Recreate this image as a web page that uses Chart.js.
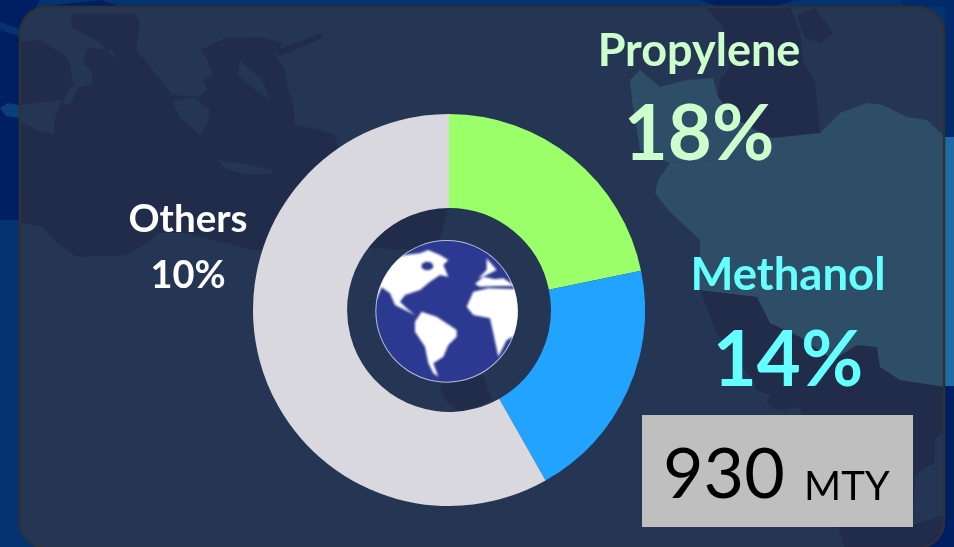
<!DOCTYPE html>
<html>
<head>
<meta charset="utf-8">
<title>Feedstock share</title>
<script src="https://cdn.jsdelivr.net/npm/chart.js@4"></script>
<style>
html, body { margin: 0; padding: 0; background: #04336f; overflow: hidden; }
#stage { position: relative; width: 954px; height: 547px; overflow: hidden; font-family: Lato, sans-serif; }
#stage svg { position: absolute; left: 0; top: 0; }
#chartBox { position: absolute; left: 253px; top: 114px; width: 392px; height: 392px; }
.lbl { position: absolute; transform: translateX(-50%); white-space: nowrap; font-weight: bold; line-height: 1; }
#totalBox { position: absolute; left: 642px; top: 415px; width: 271px; height: 112px; background: #bfbfbf; color: #000; }
#totalBox span { position: absolute; line-height: 1; white-space: nowrap; }
</style>
</head>
<body>
<div id="stage">
<svg width="954" height="547" viewBox="0 0 954 547">
	<defs>
		<clipPath id="panelClip"><rect x="20" y="7" width="924" height="541" rx="27"/></clipPath>
		<clipPath id="globeClip"><circle cx="320" cy="334" r="213"/></clipPath>
		<filter id="soft"><feGaussianBlur stdDeviation="3"/></filter>
	</defs>
	<!-- outside the panel -->
	<polygon points="0,0 40,0 22,30 0,22" fill="#001f63"/>
	<polygon points="0,30 19,36 19,220 0,220" fill="#001f63"/>
	<polygon points="0,108 8,103 19,105 19,118 6,116" fill="#0a3f7c"/>
	<polygon points="100,0 122,7 40,7" fill="#001f63"/>
	<polygon points="700,0 795,0 775,7 720,7" fill="#001f63"/>
	<polygon points="900,0 954,0 954,137 945,137 945,7 905,7" fill="#02296a"/>
	<polygon points="945,137 954,137 954,386 945,386" fill="#1d6aa5"/>
	<polygon points="945,386 954,386 954,547 900,547 945,520" fill="#001f63"/>

	<!-- panel and the map behind it -->
	<g clip-path="url(#panelClip)">
		<rect x="19" y="7" width="926" height="541" fill="#243654"/>
		<!-- sea on the left, runs behind the ring into its hole -->
		<polygon fill="#212b4a" points="19,42 70,30 72,14 135,14 140,22 136,50 147,63 163,83 172,95 200,97 207,88 203,80 213,75 205,55 200,50 225,38 260,37 283,43 275,55 285,70 287,85 293,105 295,125 320,130 335,135 340,160 448,170 448,208 440,240 410,250 375,248 253,250 187,233 157,233 148,243 125,255 77,257 57,243 43,227 20,222"/>
		<polygon fill="#212b4a" points="275,50 300,42 322,33 322,38 302,47 280,56"/>
		<polygon fill="#212b4a" points="440,385 483,375 492,400 460,413 445,400"/>
		<!-- italy, sicily, greece, crete -->
		<polygon fill="#243654" points="19,30 70,12 72,28 100,42 118,62 112,50 88,48 83,62 92,72 92,85 78,88 70,105 62,103 70,88 74,85 68,58 40,40 19,42"/>
		<polygon fill="#243654" points="19,105 62,100 55,118 54,135 40,132 19,120"/>
		<polygon fill="#243654" points="172,100 195,98 210,110 207,125 200,135 205,142 195,130 180,118"/>
		<polygon fill="#243654" points="218,160 250,165 272,170 272,174 245,175 225,168"/>
		<polygon fill="#243654" points="240,60 262,80 270,100 255,90 238,75"/>
		<!-- east side -->
		<polygon fill="#212b4a" points="700,0 793,0 790,7 800,33 803,60 815,83 820,133 773,138 733,117 718,97 720,80 730,67 723,27"/>
		<polygon fill="#212b4a" points="797,15 815,8 833,33 820,43 805,38"/>
		<polygon fill="#212b4a" points="700,290 757,297 770,323 800,337 833,360 857,345 877,347 880,367 900,380 945,387 945,430 935,440 935,462 915,475 913,525 945,515 945,548 845,548 800,407 777,410 767,403 770,395 757,390 753,380 717,333 713,323"/>
		<polygon fill="#2e4e68" points="630,80 640,70 660,87 687,80 713,78 718,97 733,117 767,137 773,138 717,160 670,163 640,150 632,100"/>
		<polygon fill="#2e4e68" points="658,180 663,173 670,163 717,160 773,138 820,133 840,113 867,103 883,105 907,117 927,120 945,137 945,387 900,380 880,367 877,347 857,345 833,360 800,337 770,323 757,297 700,290 700,240 668,210 655,193"/>
	</g>
	<rect x="20" y="7" width="924" height="541" rx="27" fill="none" stroke="#2e3136" stroke-width="2.5"/>
</svg>

<div id="chartBox"><canvas id="shareChart"></canvas></div>

<!-- globe in the middle of the ring, coordinates are at 3x -->
<svg width="954" height="547" viewBox="0 0 954 547">
	<g transform="translate(340,200) scale(0.3333)">
		<circle cx="320" cy="334" r="214" fill="#b9bcdc"/>
		<circle cx="320" cy="334" r="211" fill="#2c3990"/>
		<g clip-path="url(#globeClip)">
			<g fill="#ffffff" filter="url(#soft)">
				<polygon points="195,165 240,160 265,150 300,165 325,180 310,195 325,230 300,225 270,245 240,270 195,285 180,305 200,325 225,345 195,330 165,315 150,280 125,262 108,300 100,200"/>
				<polygon points="225,365 245,335 290,350 350,390 350,410 325,435 310,470 280,490 295,530 280,520 265,490 255,440 225,395"/>
				<polygon points="380,320 400,275 445,265 540,268 540,400 500,420 475,470 460,400 450,355 400,345"/>
				<polygon points="405,252 430,230 465,238 490,235 525,258 470,258 420,260"/>
				<polygon points="440,175 470,210 440,225 415,235 440,210"/>
			</g>
			<g fill="#2c3990" filter="url(#soft)">
				<ellipse cx="262" cy="198" rx="18" ry="13"/>
			</g>
		</g>
	</g>
</svg>

<div id="labels"></div>
<div id="totalBox"><span id="totalNum" style="left:21px;top:21px;font-size:70px;"></span><span id="totalUnit" style="left:162px;top:50px;font-size:40px;"></span></div>
</div>

<script>
const sliceNames = ['Propylene', 'Methanol', 'Others'];
const sliceValues = [21.8, 20, 58.2];
const sliceColors = ['#9bff69', '#21a3ff', '#d9d8de'];
const shownPercents = ['18%', '14%', '10%'];
const totalValue = '930';
const totalUnit = 'MTY';

const labelStyle = [
	{ x: 699, nameTop: 27, nameSize: 45, pctTop: 93, pctSize: 76, color: '#ccffcc' },
	{ x: 788, nameTop: 250, nameSize: 45.5, pctTop: 319, pctSize: 76, color: '#66ffff' },
	{ x: 188, nameTop: 198, nameSize: 38.5, pctTop: 254, pctSize: 38, color: '#ffffff' }
];

function addLabel(text, x, top, size, color)
{
	var d = document.createElement('div');
	d.className = 'lbl';
	d.textContent = text;
	d.style.left = x + 'px';
	d.style.top = top + 'px';
	d.style.fontSize = size + 'px';
	d.style.color = color;
	document.getElementById('labels').appendChild(d);
}

sliceNames.forEach(function (name, i) {
	var s = labelStyle[i];
	addLabel(name, s.x, s.nameTop, s.nameSize, s.color);
	addLabel(shownPercents[i], s.x, s.pctTop, s.pctSize, s.color);
});
document.getElementById('totalNum').textContent = totalValue;
document.getElementById('totalUnit').textContent = totalUnit;

new Chart(document.getElementById('shareChart'), {
	type: 'doughnut',
	data: {
		labels: sliceNames,
		datasets: [{
			data: sliceValues,
			backgroundColor: sliceColors,
			borderWidth: 0
		}]
	},
	options: {
		responsive: true,
		maintainAspectRatio: false,
		animation: false,
		cutout: '52%',
		plugins: {
			legend: { display: false },
			tooltip: { enabled: false }
		}
	}
});
</script>
</body>
</html>
